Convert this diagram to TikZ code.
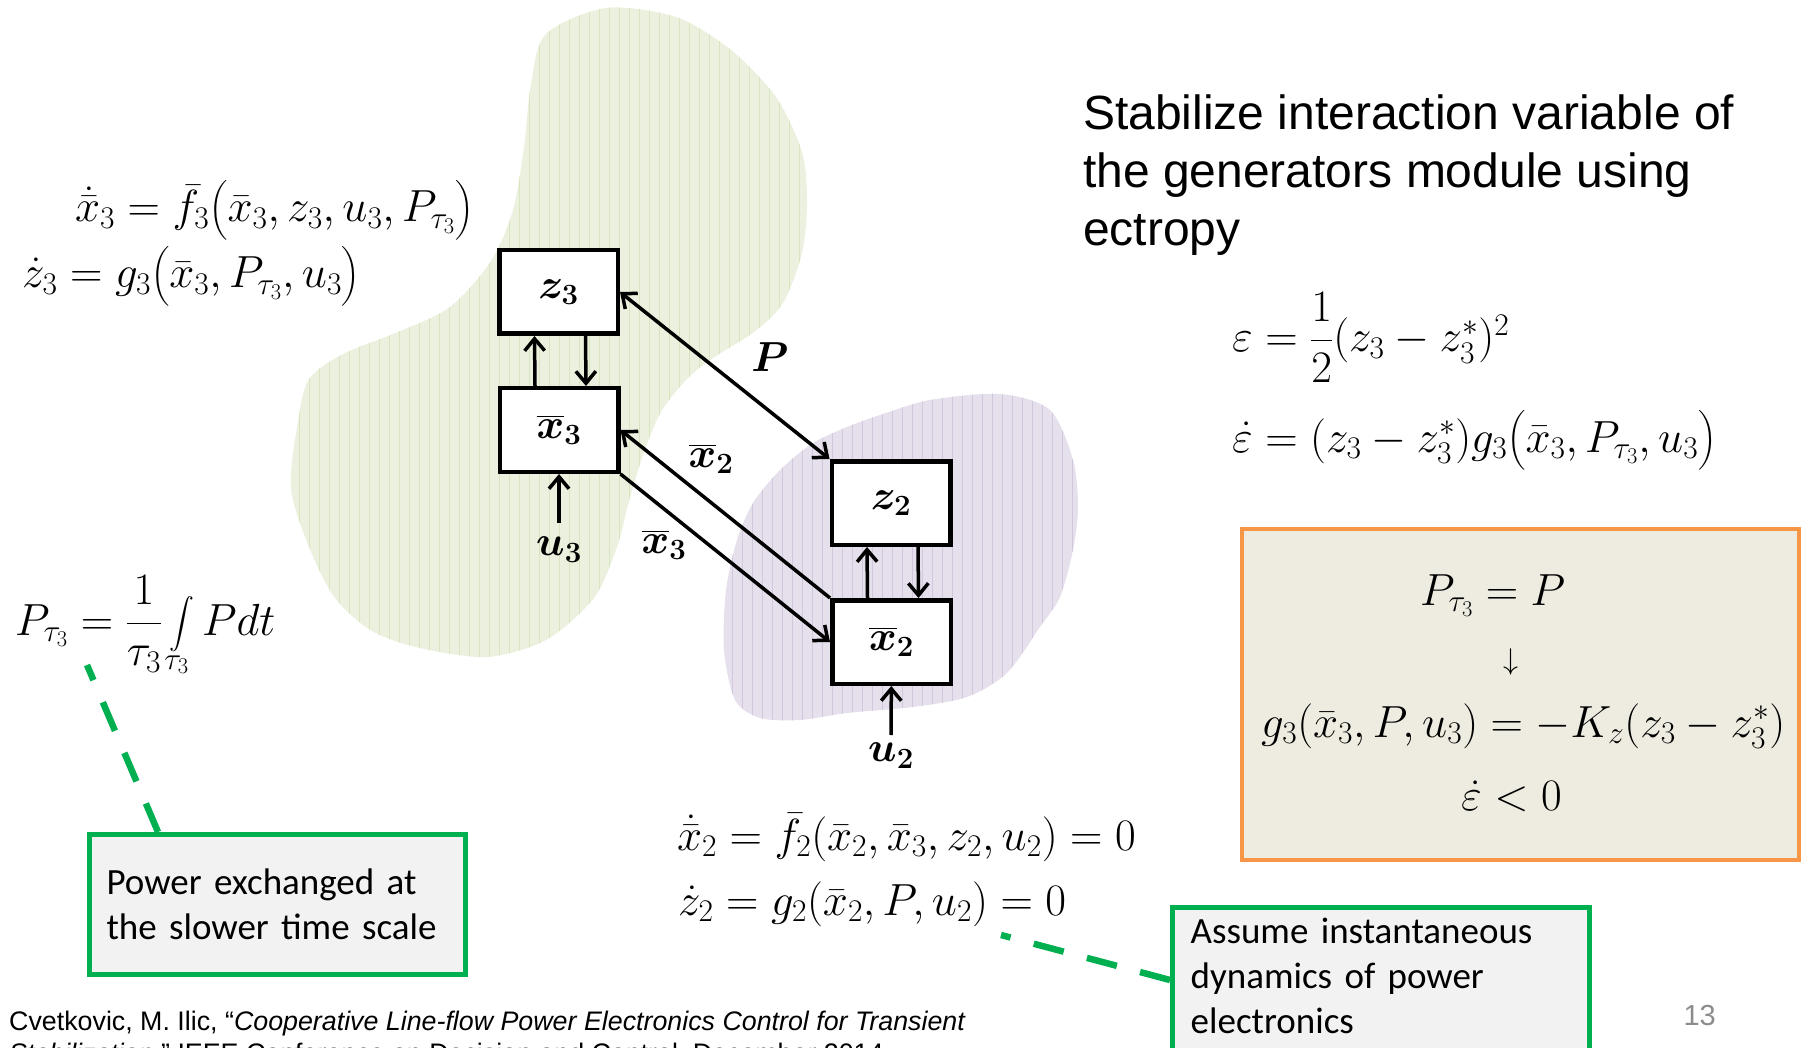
\RequirePackage{fix-cm}
\documentclass[tikz,border=0pt]{standalone}
\usepackage{amsmath,bm}
\usepackage{exscale}
\usepackage{fontspec}
\newfontfamily\arialfont{Liberation Sans}
\newfontfamily\calibrifont{Carlito}
\usetikzlibrary{arrows.meta}

\definecolor{greenfill}{HTML}{EBF1DE}
\definecolor{greenhatch}{HTML}{D9E5C0}
\definecolor{purplefill}{HTML}{E6E0EC}
\definecolor{purplehatch}{HTML}{D2C8DE}
\definecolor{notegreen}{HTML}{00B050}
\definecolor{notefill}{HTML}{F2F2F2}
\definecolor{ruleorange}{HTML}{F79646}
\definecolor{rulefill}{HTML}{EEECE1}
\definecolor{pagegray}{HTML}{8C8C8C}

\newcommand\mathsize{\fontsize{42}{50}\selectfont}
\newcommand\eqsize{\fontsize{45}{54}\selectfont}

\begin{document}
\begin{tikzpicture}[x=1pt, y=-1pt, >={Straight Barb[length=12pt,width=20pt]},
  state/.style={draw, line width=4.5pt, fill=white, minimum width=118.5pt,
    minimum height=83.5pt, inner sep=0pt, font=\mathsize},
  lbl/.style={inner sep=0pt, font=\mathsize},
  eq/.style={anchor=base west, inner sep=0pt, font=\eqsize},
  flow/.style={->, line width=3.5pt},
  note/.style={draw=notegreen, line width=5pt, fill=notefill, align=left,
    font=\calibrifont\fontsize{37}{45}\selectfont},
  notelink/.style={draw=notegreen, line width=6.5pt, dash pattern=on 31pt off 24pt},
  hatch/.style={line width=1pt}]
  \useasboundingbox (0,0) rectangle (1807,1048);

  % Generator area (green) and power electronics area (purple)
  \fill[greenfill, path picture={
      \foreach \hx in {0,10,...,560}
        \draw[greenhatch, hatch] ([xshift=\hx pt]path picture bounding box.north west)
          -- ([xshift=\hx pt]path picture bounding box.south west);}]
    plot[smooth cycle] coordinates {(546,34) (606,8) (676,17) (731,50) (776,97)
      (802,152) (807,202) (802,253) (783,303) (754,332) (713,358) (687,379) (661,412)
      (643,455) (628,505) (617,547) (594,598) (546,640) (487,657) (420,648) (372,631)
      (335,598) (309,547) (291,488) (298,421) (309,379) (343,354) (398,332) (450,307)
      (491,261) (513,210) (524,147) (531,84)};
  \fill[purplefill, path picture={
      \foreach \hx in {0,10,...,400}
        \draw[purplehatch, hatch] ([xshift=\hx pt]path picture bounding box.north west)
          -- ([xshift=\hx pt]path picture bounding box.south west);}]
    plot[smooth cycle] coordinates {(737,540) (753,503) (780,470) (813,443) (847,427)
      (880,415) (930,400) (1000,394) (1050,410) (1073,460) (1078,507) (1073,550)
      (1060,597) (1040,627) (1007,673) (967,697) (913,707) (847,713) (800,720)
      (760,718) (735,700) (724,650) (726,590)};

  % State blocks
  \node[state] (z3) at (558.5,292) {$\bm{z_3}$};
  \node[state] (x3) at (559,430) {$\overline{\bm{x}}_{\bm{3}}$};
  \node[state] (z2) at (891,503) {$\bm{z_2}$};
  \node[state] (x2) at (891.5,642) {$\overline{\bm{x}}_{\bm{2}}$};
  \node[lbl, inner sep=14pt, anchor=north] (u3) at (559,523) {$\bm{u_3}$};
  \node[lbl, inner sep=8pt, anchor=north] (u2) at (891,735) {$\bm{u_2}$};

  % Couplings
  \draw[flow] ([xshift=-24pt]x3.north) -- ([xshift=-24pt]z3.south);
  \draw[flow] ([xshift=27pt]z3.south) -- ([xshift=27pt]x3.north);
  \draw[flow] ([xshift=-24pt]x2.north) -- ([xshift=-24pt]z2.south);
  \draw[flow] ([xshift=27pt]z2.south) -- ([xshift=27pt]x2.north);
  \draw[flow] (u3) -- (x3);
  \draw[flow] (u2) -- (x2);
  \draw[flow, <->] (z3.east) -- (z2.north west);
  \draw[flow] (x2.north west) -- (x3.east);
  \draw[flow] (x3.south east) -- (x2.west);
  \node[lbl] (lblP) at (770,357) {$\bm{P}$};
  \node[lbl] (lblx2) at (711,459) {$\overline{\bm{x}}_{\bm{2}}$};
  \node[lbl] (lblx3) at (664,545) {$\overline{\bm{x}}_{\bm{3}}$};

  % Module equations
  \node[eq] (eqx3) at (75,222) {$\dot{\bar{x}}_3 = \bar{f}_3\bigl(\bar{x}_3, z_3, u_3, P_{\tau_3}\bigr)$};
  \node[eq] (eqz3) at (22,288) {$\dot{z}_3 = g_3\bigl(\bar{x}_3, P_{\tau_3}, u_3\bigr)$};
  \node[eq] (eqP) at (15,635) {$\displaystyle P_{\tau_3} = \frac{1}{\tau_3}\int\limits_{\tau_3} P dt$};
  \node[eq] (eqx2) at (677,850) {$\dot{\bar{x}}_2 = \bar{f}_2(\bar{x}_2, \bar{x}_3, z_2, u_2) = 0$};
  \node[eq] (eqz2) at (678,915) {$\dot{z}_2 = g_2(\bar{x}_2, P, u_2) = 0$};

  % Ectropy
  \node[anchor=north west, inner sep=0pt, align=left,
    font=\arialfont\fontsize{48}{57.6}\selectfont] (goal) at (1083,95)
    {Stabilize interaction variable of\\the generators module using\\ectropy};
  \node[eq] (ect) at (1232,352) {$\varepsilon = \dfrac{1}{2}(z_3 - z_3^{*})^{2}$};
  \node[eq] (ectdot) at (1232,452) {$\dot{\varepsilon} = (z_3 - z_3^{*})g_3\bigl(\bar{x}_3, P_{\tau_3}, u_3\bigr)$};

  \node[draw=ruleorange, line width=4pt, fill=rulefill, minimum width=557pt,
    minimum height=331pt] (rule) at (1520.5,694.5) {};
  \node[eq] (rule1) at (1420,605) {$P_{\tau_3} = P$};
  \node[lbl, font=\fontsize{30}{36}\selectfont] (rule2) at (1511,662) {$\downarrow$};
  \node[eq] (rule3) at (1261,737) {$g_3(\bar{x}_3, P, u_3) = -K_z(z_3 - z_3^{*})$};
  \node[eq] (rule4) at (1461,810) {$\dot{\varepsilon} < 0$};

  % Notes
  \node[note, anchor=north west, inner xsep=17pt, text width=342pt,
    minimum height=140pt] (slow) at (87,832)
    {Power exchanged at\\the slower time scale};
  \coordinate (slowend) at (87,665);
  \draw[notelink] ([xshift=71pt]slow.north west) -- (slowend);

  \fill[notefill, draw=notegreen, line width=5pt] (1172.5,907.5) rectangle (1589.5,1080);
  \node[anchor=north west, inner xsep=20.5pt, inner ysep=13pt, text width=381pt, align=left,
    font=\calibrifont\fontsize{37}{45}\selectfont] (fast) at (1170,905)
    {Assume instantaneous\\dynamics of power\\electronics};
  \coordinate (fastend) at (1001,935);
  \draw[notelink] ([yshift=-75pt]fast.north west) -- (fastend);

  % Footer
  \node[anchor=north west, inner sep=0pt, align=left,
    font=\arialfont\fontsize{26.8}{32}\selectfont] (cite) at (9,1011)
    {Cvetkovic, M. Ilic, \textquotedblleft\textit{Cooperative Line-flow Power Electronics Control for Transient}\\
     \textit{Stabilization},\textquotedblright{} IEEE Conference on Decision and Control, December 2014};
  \node[anchor=base east, inner sep=0pt, text=pagegray,
    font=\arialfont\fontsize{29}{35}\selectfont] (page) at (1716,1025) {13};
\end{tikzpicture}
\end{document}
